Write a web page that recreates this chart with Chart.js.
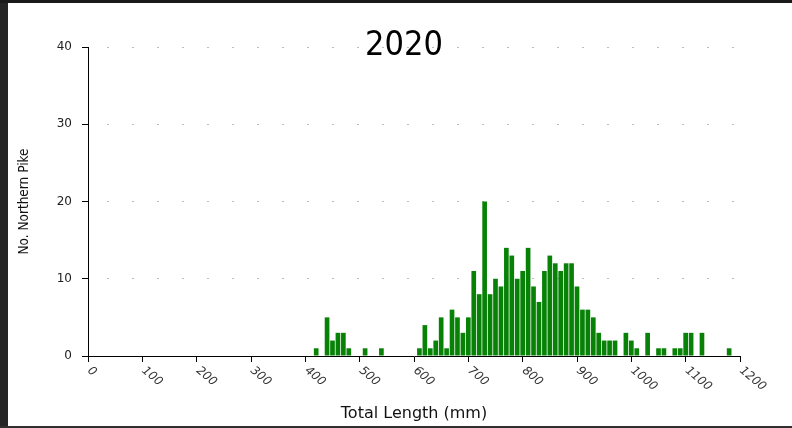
<!DOCTYPE html>
<html>
<head>
<meta charset="utf-8">
<script src="https://cdn.jsdelivr.net/npm/chart.js@4"></script>
<style>
  html, body { margin: 0; padding: 0; background: #fff; }
  #wrap { width: 792px; height: 428px; }
</style>
</head>
<body>
<div id="wrap"><canvas id="pikeChart" width="792" height="428"></canvas></div>
<script>
// Length bins (mm, bin centre) and number of fish in each bin
const lengths = [420, 440, 450, 460, 470, 480, 510, 540,
    610, 620, 630, 640, 650, 660, 670, 680, 690, 700,
    710, 720, 730, 740, 750, 760, 770, 780, 790, 800,
    810, 820, 830, 840, 850, 860, 870, 880, 890, 900,
    910, 920, 930, 940, 950, 960, 970, 990, 1000,
    1010, 1030, 1050, 1060, 1080, 1090, 1100, 1110, 1130, 1180];
const counts = [1, 5, 2, 3, 3, 1, 1, 1,
    1, 4, 1, 2, 5, 1, 6, 5, 3, 5,
    11, 8, 20, 8, 10, 9, 14, 13, 10, 11,
    14, 9, 7, 11, 13, 12, 11, 12, 12, 9,
    6, 6, 5, 3, 2, 2, 2, 3, 2,
    1, 3, 1, 1, 1, 1, 3, 3, 3, 1];

const yTicks = [0, 10, 20, 30, 40];
const xTicks = [0, 100, 200, 300, 400, 500, 600, 700, 800, 900, 1000, 1100, 1200];

const chartTitle = "2020";

const ctx = document.getElementById("pikeChart").getContext('2d');

// White page with the dark frame strips of the screenshot
const framePlugin = {
    id: 'frame',
    beforeDraw: (chart) => {
        const c = chart.ctx;
        c.save();
        c.fillStyle = '#ffffff';
        c.fillRect(0, 0, chart.width, chart.height);
        c.fillStyle = '#252525';
        c.fillRect(0, 0, 8, chart.height);
        c.fillStyle = '#1a1a1a';
        c.fillRect(0, 0, chart.width, 3);
        c.fillStyle = '#303030';
        c.fillRect(0, chart.height - 2, chart.width, 2);
        c.restore();
    }
};

// Rotated x tick labels (text starts at the tick and runs down to the right) + title
const labelPlugin = {
    id: 'labels',
    afterDraw: (chart) => {
        const c = chart.ctx;
        const xScale = chart.scales.x;
        c.save();
        c.font = 'italic 12px "DejaVu Sans", sans-serif';
        c.fillStyle = '#333';
        c.textAlign = 'left';
        c.textBaseline = 'middle';
        xScale.ticks.forEach((t) => {
            const px = xScale.getPixelForValue(t.value);
            c.save();
            c.translate(px + 1, xScale.top + 13);
            c.rotate(Math.PI * 40 / 180);
            c.fillText(String(t.value), 0, 0);
            c.restore();
        });
        c.fillStyle = '#000';
        c.font = '34px "DejaVu Sans Condensed", sans-serif';
        c.textAlign = 'center';
        c.textBaseline = 'middle';
        c.fillText(chartTitle, 404, 46);
        c.restore();
    }
};

new Chart(ctx, {
    type: 'bar',
    data: {
        datasets: [{
            label: 'No. Northern Pike',
            data: lengths.map((len, i) => ({ x: len, y: counts[i] })),
            backgroundColor: '#078207',
            borderWidth: 0,
            categoryPercentage: 1,
            barPercentage: 0.86
        }]
    },
    options: {
        responsive: false,
        animation: false,
        layout: {
            padding: { left: 0, top: 47, right: 52, bottom: 1 }
        },
        plugins: {
            legend: { display: false },
            tooltip: { enabled: false }
        },
        scales: {
            x: {
                type: 'linear',
                min: 0,
                max: 1200,
                offset: false,
                afterFit: (scale) => { scale.height = 71; },
                afterBuildTicks: (scale) => {
                    scale.ticks = xTicks.map((v) => ({ value: v }));
                },
                ticks: { display: false },
                grid: {
                    offset: false,
                    drawOnChartArea: false,
                    drawTicks: true,
                    tickLength: 6,
                    tickColor: '#000'
                },
                border: { color: '#000', width: 1 },
                title: {
                    display: true,
                    text: 'Total Length (mm)',
                    color: '#111',
                    font: { family: '"DejaVu Sans", sans-serif', size: 16 },
                    padding: { top: 4, bottom: 4 }
                }
            },
            y: {
                min: 0,
                max: 40,
                afterFit: (scale) => { scale.width = 88; },
                afterBuildTicks: (scale) => {
                    scale.ticks = yTicks.map((v) => ({ value: v }));
                },
                ticks: {
                    color: '#222',
                    padding: 10,
                    font: { family: '"DejaVu Sans", sans-serif', size: 12 }
                },
                grid: {
                    color: '#bdbdbd',
                    lineWidth: 1,
                    drawTicks: true,
                    tickLength: 6,
                    tickColor: '#000'
                },
                border: { color: '#000', width: 1, dash: [2, 23], dashOffset: 7 },
                title: {
                    display: true,
                    text: 'No. Northern Pike',
                    color: '#111',
                    font: { family: '"DejaVu Sans Condensed", sans-serif', size: 13.5 },
                    padding: { top: 16, bottom: 0 }
                }
            }
        }
    },
    plugins: [framePlugin, labelPlugin]
});
</script>
</body>
</html>
